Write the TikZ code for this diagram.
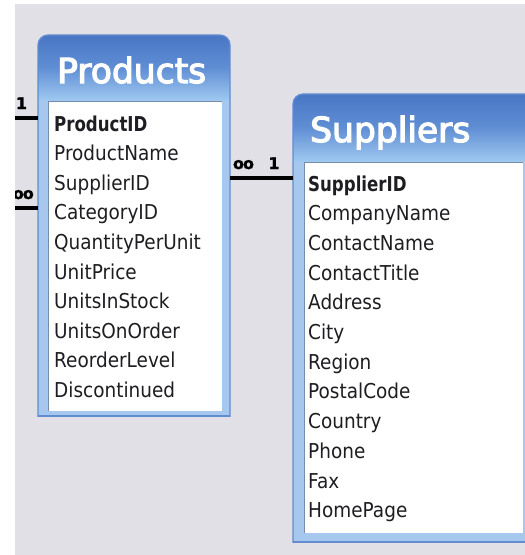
\documentclass[tikz,border=0pt]{standalone}
\usepackage{fontspec}
\setmainfont{DejaVu Sans}
\newfontfamily\rowfont[FakeStretch=0.9]{DejaVu Sans}
\newfontfamily\keyfont[FakeStretch=0.81]{DejaVu Sans}
\newfontfamily\titlefont[FakeBold=3.5]{DejaVu Sans}
\newfontfamily\labelfont[FakeBold=1.5]{DejaVu Sans}
\definecolor{bggray}{RGB}{225,224,230}
\definecolor{frameblue}{RGB}{166,199,238}
\definecolor{edgeblue}{RGB}{98,140,208}
\definecolor{titletop}{RGB}{72,118,196}
\definecolor{titlemid}{RGB}{96,142,212}
\definecolor{titlebot}{RGB}{158,200,240}
\definecolor{innerline}{RGB}{120,140,170}
\definecolor{fieldtext}{RGB}{30,30,34}
\tikzset{
  tablebox/.style={inner sep=0pt, outer sep=0pt, anchor=north west},
  field/.style={anchor=base west, inner sep=0pt, text=fieldtext,
    font=\rowfont\fontsize{20.5}{24}\selectfont},
  keyfield/.style={anchor=base west, inner sep=0pt, text=fieldtext,
    font=\keyfont\bfseries\fontsize{20.5}{24}\selectfont},
  tabletitle/.style={anchor=base west, inner sep=0pt, text=white,
    font=\titlefont\fontsize{34.5}{40}\selectfont},
  rel/.style={draw=black, line width=4pt},
  rellabel/.style={inner sep=0pt, text=black,
    font=\labelfont\bfseries\fontsize{16}{17}\selectfont},
}
\begin{document}
\begin{tikzpicture}[x=1pt,y=-1pt]
\useasboundingbox (0,0) rectangle (525,555);
\fill[white] (0,0) rectangle (525,555);
\fill[bggray] (15,4) rectangle (525,555);

% ---------- Products table ----------
\node[tablebox, minimum width=192pt, minimum height=381pt] (products) at (38,35) {};
\begin{scope}
  \clip (36,33) rectangle (232,416);
  \fill[frameblue, rounded corners=10pt] (38,35) rectangle (230,440);
  \begin{scope}
    \clip[rounded corners=10pt] (38,35) rectangle (230,440);
    \shade[top color=titletop, bottom color=titlebot, middle color=titlemid] (38,35) rectangle (230,100);
  \end{scope}
  \draw[edgeblue, line width=1.2pt, rounded corners=10pt] (38,35) rectangle (230,440);
\end{scope}
\draw[edgeblue, line width=1.2pt] (38,416) -- (230,416);
\fill[white] (48,101) rectangle (222,411);
\draw[innerline, line width=0.8pt] (48,411) -- (48,101) -- (222,101);
\node[tabletitle] (ptitle) at (57,83) {Products};
\node[keyfield] (p1) at (54,131) {ProductID};
\node[field] (p2) at (54,160.6) {ProductName};
\node[field] (p3) at (54,190.2) {SupplierID};
\node[field] (p4) at (54,219.8) {CategoryID};
\node[field] (p5) at (54,249.4) {QuantityPerUnit};
\node[field] (p6) at (54,279) {UnitPrice};
\node[field] (p7) at (54,308.6) {UnitsInStock};
\node[field] (p8) at (54,338.2) {UnitsOnOrder};
\node[field] (p9) at (54,367.8) {ReorderLevel};
\node[field] (p10) at (54,397.4) {Discontinued};

% ---------- Suppliers table ----------
\node[tablebox, minimum width=240pt, minimum height=448pt] (suppliers) at (293,94) {};
\begin{scope}
  \clip (291,92) rectangle (525,542);
  \fill[frameblue, rounded corners=10pt] (293,94) rectangle (535,560);
  \begin{scope}
    \clip[rounded corners=10pt] (293,94) rectangle (535,560);
    \shade[top color=titletop, bottom color=titlebot, middle color=titlemid] (293,94) rectangle (535,161);
  \end{scope}
  \draw[edgeblue, line width=1.2pt, rounded corners=10pt] (293,94) rectangle (535,560);
\end{scope}
\draw[edgeblue, line width=1.2pt] (293,542) -- (525,542);
\fill[white] (304,162) rectangle (523,533);
\draw[innerline, line width=0.8pt] (304,533) -- (304,162) -- (523,162);
\node[tabletitle] (stitle) at (310,142) {Suppliers};
\node[keyfield] (s1) at (308,191) {SupplierID};
\node[field] (s2) at (308,220.7) {CompanyName};
\node[field] (s3) at (308,250.4) {ContactName};
\node[field] (s4) at (308,280.1) {ContactTitle};
\node[field] (s5) at (308,309.8) {Address};
\node[field] (s6) at (308,339.5) {City};
\node[field] (s7) at (308,369.2) {Region};
\node[field] (s8) at (308,398.9) {PostalCode};
\node[field] (s9) at (308,428.6) {Country};
\node[field] (s10) at (308,458.3) {Phone};
\node[field] (s11) at (308,488) {Fax};
\node[field] (s12) at (308,517.7) {HomePage};

% ---------- Relationships ----------
\coordinate (pl1) at (15,118);
\coordinate (pl2) at (15,208);
\coordinate (mid) at (262,178);
\draw[rel] (pl1) -- (pl1 -| products.west);
\draw[rel] (pl2) -- (pl2 -| products.west);
\draw[rel] (mid -| products.east) -- (mid -| suppliers.west);
\node[rellabel, anchor=base] (l1) at (21.5,109) {1};
\begin{scope}
  \clip (15,180) rectangle (40,205);
  \node[rellabel, anchor=base east] (l2) at (34,199) {o\kern-1pt o};
\end{scope}
\node[rellabel, anchor=base] (l3) at (243.5,169) {o\kern-1pt o};
\node[rellabel, anchor=base] (l4) at (274,169) {1};
\end{tikzpicture}
\end{document}
